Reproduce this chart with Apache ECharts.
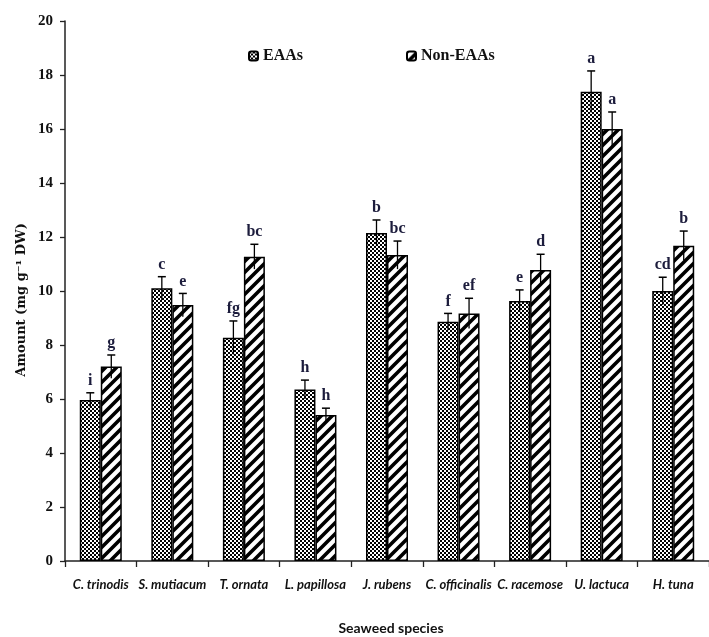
<!DOCTYPE html>
<html>
<head>
<meta charset="utf-8">
<script src="https://cdn.jsdelivr.net/npm/echarts@6/dist/echarts.min.js"></script>
<style>html,body{margin:0;padding:0;background:#fff}#c{width:709px;height:637px}</style>
</head>
<body>
<div id="c"></div>
<script>
const categories = ['C. trinodis','S. mutiacum','T. ornata','L. papillosa','J. rubens','C. officinalis','C. racemose','U. lactuca','H. tuna'];
const eaas = [5.96, 10.1, 8.27, 6.35, 12.15, 8.86, 9.63, 17.38, 10.0];
const eaasErr = [0.27, 0.43, 0.62, 0.35, 0.48, 0.31, 0.41, 0.77, 0.51];
const nonEaas = [7.2, 9.48, 11.27, 5.41, 11.33, 9.17, 10.78, 16.0, 11.68];
const nonEaasErr = [0.43, 0.43, 0.46, 0.25, 0.52, 0.56, 0.58, 0.63, 0.54];
const eaasLetters = ['i','c','fg','h','b','f','e','a','cd'];
const nonEaasLetters = ['g','e','bc','h','bc','ef','d','a','b'];
const yTicks = {min: 0, max: 20, interval: 2};

function checker() {
  const c = document.createElement('canvas'); c.width = 4; c.height = 4;
  const g = c.getContext('2d');
  g.fillStyle = '#fff'; g.fillRect(0,0,4,4);
  g.fillStyle = '#000'; g.fillRect(0,0,2,2); g.fillRect(2,2,2,2);
  return c;
}
function stripes() {
  const s = 11;
  const c = document.createElement('canvas'); c.width = s; c.height = s;
  const g = c.getContext('2d');
  g.fillStyle = '#fff'; g.fillRect(0,0,s,s);
  g.strokeStyle = '#000'; g.lineWidth = 3.6;
  g.beginPath();
  g.moveTo(-s/2, s/2); g.lineTo(s/2, -s/2);
  g.moveTo(0, s); g.lineTo(s, 0);
  g.moveTo(s/2, s*1.5); g.lineTo(s*1.5, s/2);
  g.stroke();
  return c;
}
const chk = {image: checker(), repeat: 'repeat'};
const str = {image: stripes(), repeat: 'repeat'};

const BW = 21;
function errSeries(name, vals, errs, letters, off) {
  return {
    type: 'custom', name: name + '_err', z: 5,
    data: vals.map((v, i) => [i, v, errs[i]]),
    renderItem: function (params, api) {
      const i = api.value(0), v = api.value(1), e = api.value(2);
      const hi = api.coord([i, v + e]);
      const lo = api.coord([i, v - e]);
      const x = hi[0] + off;
      return {
        type: 'group',
        children: [
          {type: 'line', shape: {x1: x, y1: lo[1], x2: x, y2: hi[1]}, style: {stroke: '#000', lineWidth: 1.3}},
          {type: 'line', shape: {x1: x - 4, y1: hi[1], x2: x + 4, y2: hi[1]}, style: {stroke: '#000', lineWidth: 1.5}},
          {type: 'text', style: {text: letters[params.dataIndex], x: x, y: hi[1] - 4, align: 'center', verticalAlign: 'bottom',
            font: 'bold 16px "Liberation Serif"', fill: '#1c1c3c'}}
        ]
      };
    }
  };
}

const chart = echarts.init(document.getElementById('c'), null, {renderer: 'canvas'});
const legendText = {fontFamily: 'Liberation Serif', fontWeight: 'bold', fontSize: 16, color: '#111'};
chart.setOption({
  animation: false,
  backgroundColor: '#fff',
  grid: {left: 65, top: 21, width: 653, height: 540, containLabel: false},
  legend: [
    {data: ['EAAs'], left: 248, top: 48, itemWidth: 9, itemHeight: 9, itemGap: 2, textStyle: legendText, padding: 0},
    {data: ['Non-EAAs'], left: 406, top: 48, itemWidth: 9, itemHeight: 9, itemGap: 2, textStyle: legendText, padding: 0}
  ],
  xAxis: {
    type: 'category', data: categories,
    axisLine: {lineStyle: {color: '#222', width: 1.5}},
    axisTick: {show: true, alignWithLabel: false, length: 6, lineStyle: {color: '#222', width: 1.3}},
    axisLabel: {margin: 17, fontFamily: 'Lato', fontStyle: 'italic', fontWeight: 'bold', fontSize: 13, color: '#111', interval: 0}
  },
  yAxis: {
    type: 'value', min: yTicks.min, max: yTicks.max, interval: yTicks.interval,
    splitLine: {show: false},
    axisLine: {show: true, lineStyle: {color: '#222', width: 1.5}},
    axisTick: {show: true, length: 5, lineStyle: {color: '#222', width: 1.3}},
    axisLabel: {margin: 12, fontFamily: 'Liberation Serif', fontWeight: 'bold', fontSize: 15, color: '#111'}
  },
  graphic: [
    {type: 'text', x: 0, y: 0, style: {text: 'Seaweed species', x: 391, y: 628, align: 'center', verticalAlign: 'middle',
      font: 'bold 14px "Lato"', fill: '#111'}},
    {type: 'text', x: 22, y: 300, rotation: Math.PI / 2, style: {text: 'Amount (mg g\u207B\u00B9 DW)', x: 0, y: 0, align: 'center', verticalAlign: 'middle',
      font: 'bold 13px "DejaVu Serif"', fill: '#111'}}
  ],
  series: [
    {name: 'EAAs', type: 'bar', data: eaas, barWidth: BW, barGap: '0%',
      itemStyle: {color: chk, borderColor: '#000', borderWidth: 1.5}},
    {name: 'Non-EAAs', type: 'bar', data: nonEaas, barWidth: BW, barGap: '0%',
      itemStyle: {color: str, borderColor: '#000', borderWidth: 1.5}},
    errSeries('EAAs', eaas, eaasErr, eaasLetters, -BW / 2),
    errSeries('Non-EAAs', nonEaas, nonEaasErr, nonEaasLetters, BW / 2)
  ]
});
</script>
</body>
</html>
